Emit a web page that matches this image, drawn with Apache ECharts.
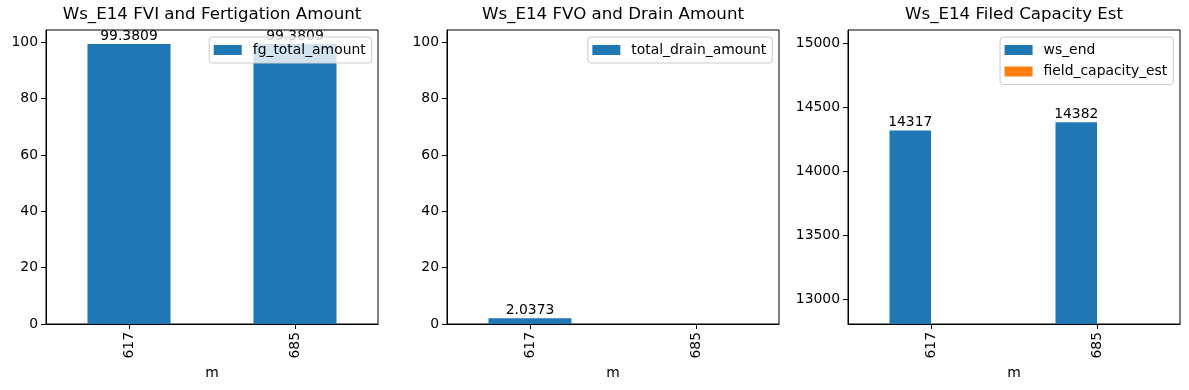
<!DOCTYPE html>
<html>
<head>
<meta charset="utf-8">
<script src="https://cdn.jsdelivr.net/npm/echarts@6/dist/echarts.min.js"></script>
<style>
html,body{margin:0;padding:0;background:#fff;}
#c{width:1189px;height:390px;}
</style>
</head>
<body>
<div id="c"></div>
<script>
// ---- data ----
const categories = ['617', '685'];
const fgTotalAmount = [99.3809, 99.3809];
const totalDrainAmount = [2.0373, null];
const wsEnd = [14317, 14382];
const fieldCapacityEst = [null, null];
const titles = ['Ws_E14 FVI and Fertigation Amount', 'Ws_E14 FVO and Drain Amount', 'Ws_E14 Filed Capacity Est'];
const amountTicks = [0, 20, 40, 60, 80, 100];
const capacityTicks = [13000, 13500, 14000, 14500, 15000];
const amountRange = [0, 104.35];
const capacityRange = [12807, 15101];

const FONT = 'DejaVu Sans';
const FS = 13.9;
const blue = '#1f77b4', orange = '#ff7f0e';

const grids = [
  {left: 46, top: 30, width: 332, height: 294},
  {left: 447, top: 30, width: 332, height: 294},
  {left: 848, top: 30, width: 332, height: 294}
].map(g => Object.assign(g, {show: true, borderColor: '#000', borderWidth: 1, backgroundColor: 'transparent'}));

function xAxis(i) {
  return {
    type: 'category', gridIndex: i, data: categories,
    name: 'm', nameLocation: 'middle', nameGap: 39,
    nameTextStyle: {fontFamily: FONT, fontSize: FS, color: '#000'},
    axisLine: {show: true, lineStyle: {color: '#000', width: 1}},
    axisTick: {show: true, alignWithLabel: true, length: 5, lineStyle: {color: '#000', width: 1}},
    axisLabel: {rotate: 90, margin: 8, fontFamily: FONT, fontSize: FS, color: '#000'},
    splitLine: {show: false}
  };
}
function yAxis(i, range, ticks) {
  return {
    type: 'value', gridIndex: i, min: range[0], max: range[1],
    axisLine: {show: true, lineStyle: {color: '#000', width: 1}},
    axisTick: {show: true, length: 5, customValues: ticks, lineStyle: {color: '#000', width: 1}},
    axisLabel: {margin: 8, customValues: ticks, formatter: v => String(v),
                fontFamily: FONT, fontSize: FS, color: '#000'},
    splitLine: {show: false}
  };
}
const labelStyle = {show: true, position: 'top', distance: 1, fontFamily: FONT, fontSize: FS, color: '#000',
  formatter: p => (p.value == null ? '' : String(p.value))};

function legend(i, names, right) {
  return {
    data: names.map(n => ({name: n, icon: 'rect'})),
    orient: 'vertical', right: right, top: 37,
    itemWidth: 28, itemHeight: 10, itemGap: 7.5,
    padding: [6, 6, 6, 4.5],
    backgroundColor: 'rgba(255,255,255,0.8)', borderColor: '#cccccc', borderWidth: 1, borderRadius: 3,
    textStyle: {fontFamily: FONT, fontSize: FS, color: '#000', padding: [0, 0, 0, 6]},
    selectedMode: false, z: 10
  };
}

const chart = echarts.init(document.getElementById('c'), null, {renderer: 'canvas'});
chart.setOption({
  animation: false,
  backgroundColor: '#fff',
  title: titles.map((t, i) => ({
    text: t, left: grids[i].left + grids[i].width / 2, top: 6, textAlign: 'center', padding: 0,
    textStyle: {fontFamily: FONT, fontSize: 16.67, fontWeight: 'normal', color: '#000'}
  })),
  grid: grids,
  xAxis: [xAxis(0), xAxis(1), xAxis(2)],
  yAxis: [yAxis(0, amountRange, amountTicks), yAxis(1, amountRange, amountTicks), yAxis(2, capacityRange, capacityTicks)],
  legend: [
    legend(0, ['fg_total_amount'], 1189 - 371.7),
    legend(1, ['total_drain_amount'], 1189 - 772.3),
    legend(2, ['ws_end', 'field_capacity_est'], 1189 - 1173.3)
  ],
  series: [
    {name: 'fg_total_amount', type: 'bar', xAxisIndex: 0, yAxisIndex: 0, data: fgTotalAmount,
     barWidth: '50%', itemStyle: {color: blue}, label: labelStyle},
    {name: 'total_drain_amount', type: 'bar', xAxisIndex: 1, yAxisIndex: 1, data: totalDrainAmount,
     barWidth: '50%', itemStyle: {color: blue}, label: labelStyle},
    {name: 'ws_end', type: 'bar', xAxisIndex: 2, yAxisIndex: 2, data: wsEnd,
     barWidth: '25%', barGap: '0%', itemStyle: {color: blue}, label: labelStyle, clip: true},
    {name: 'field_capacity_est', type: 'bar', xAxisIndex: 2, yAxisIndex: 2, data: fieldCapacityEst,
     barWidth: '25%', barGap: '0%', itemStyle: {color: orange}, label: labelStyle, clip: true}
  ]
});
</script>
</body>
</html>
